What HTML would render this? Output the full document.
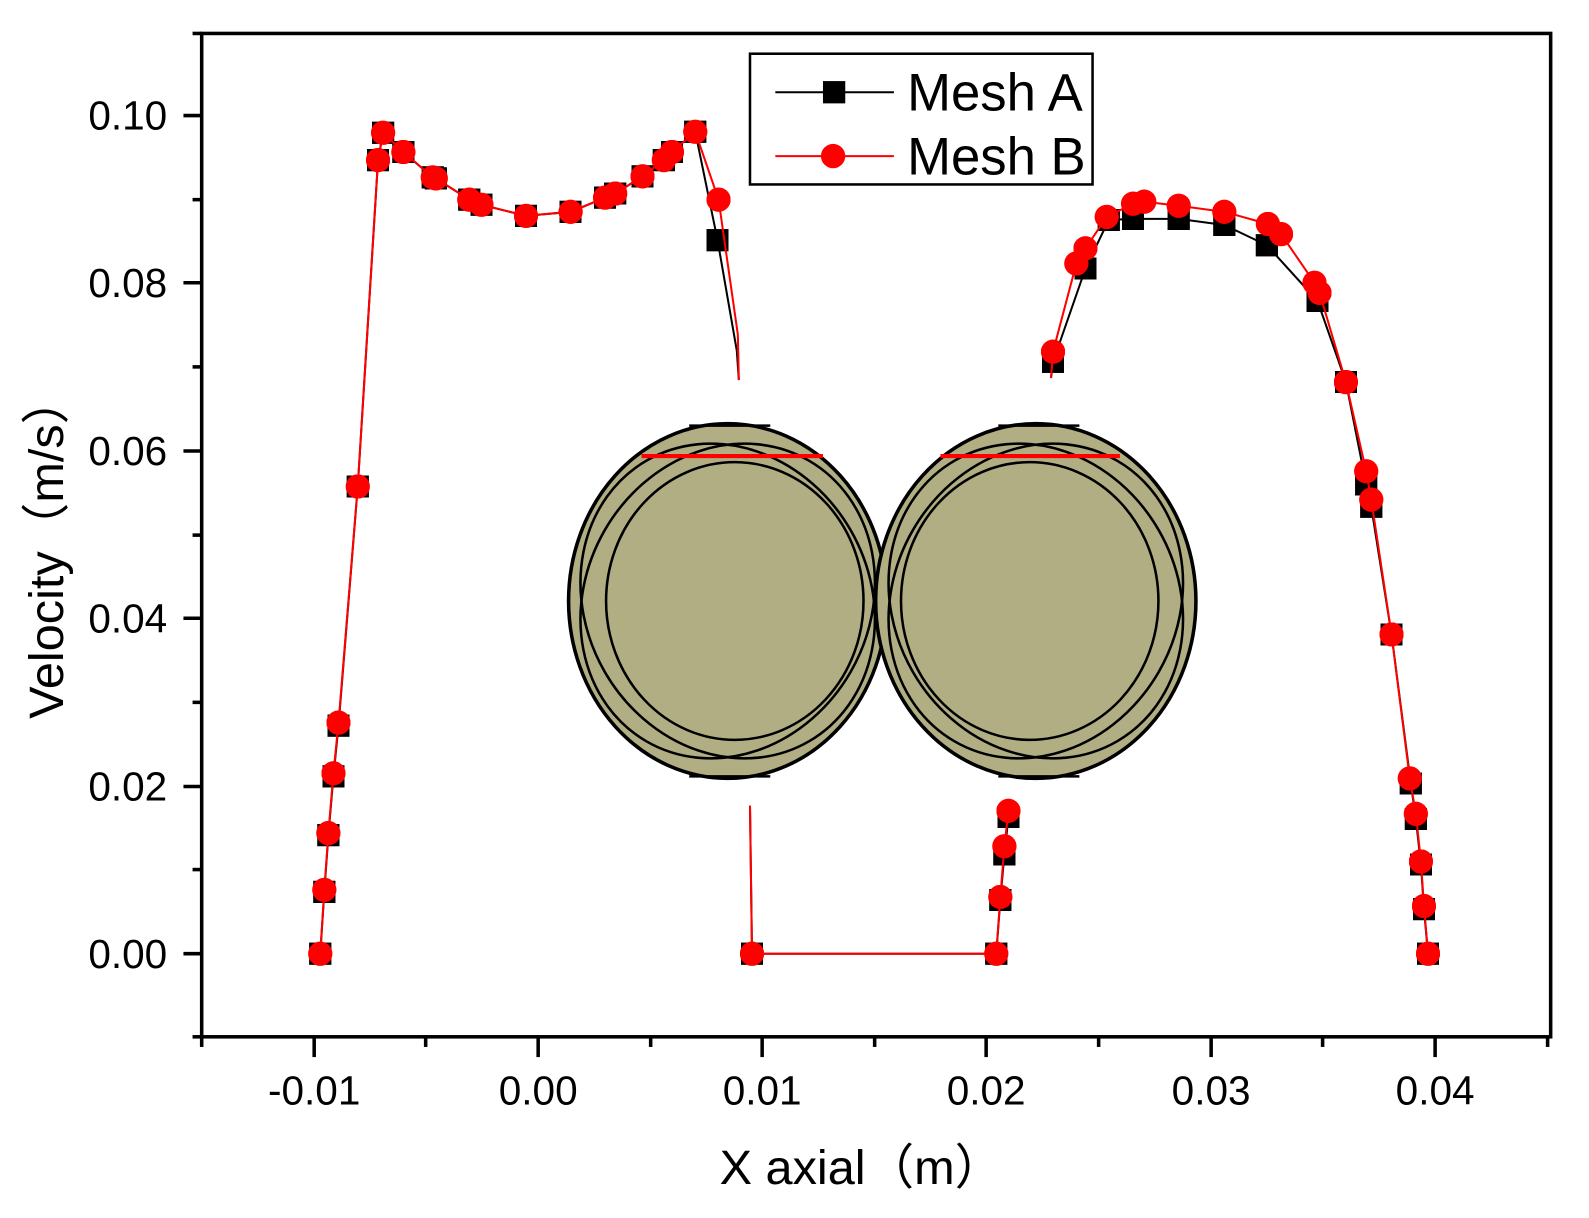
<!DOCTYPE html>
<html><head><style>body{margin:0;background:#fff}svg{display:block}</style></head>
<body>
<svg width="1589" height="1218" xmlns="http://www.w3.org/2000/svg" font-family="Liberation Sans, Arial, sans-serif">
<g transform="scale(1.0135)">
<defs>
<marker id="sq" viewBox="0 0 22 22" refX="11" refY="11" markerWidth="22" markerHeight="22" markerUnits="userSpaceOnUse"><rect width="22" height="22" fill="#000"/></marker>
<marker id="ci" viewBox="0 0 24 24" refX="12" refY="12" markerWidth="24" markerHeight="24" markerUnits="userSpaceOnUse"><circle cx="12" cy="12" r="12" fill="#f00"/></marker>
</defs>
<rect x="199" y="33" width="1331" height="990" fill="none" stroke="#000" stroke-width="3.5"/>
<g stroke="#000" stroke-width="3.5">
<line x1="199" y1="1023" x2="199" y2="1033"/>
<line x1="310" y1="1023" x2="310" y2="1043"/><line x1="420" y1="1023" x2="420" y2="1033"/>
<line x1="531" y1="1023" x2="531" y2="1043"/><line x1="642" y1="1023" x2="642" y2="1033"/>
<line x1="752" y1="1023" x2="752" y2="1043"/><line x1="863" y1="1023" x2="863" y2="1033"/>
<line x1="973" y1="1023" x2="973" y2="1043"/><line x1="1084" y1="1023" x2="1084" y2="1033"/>
<line x1="1195" y1="1023" x2="1195" y2="1043"/><line x1="1305" y1="1023" x2="1305" y2="1033"/>
<line x1="1416" y1="1023" x2="1416" y2="1043"/><line x1="1527" y1="1023" x2="1527" y2="1033"/>
<line x1="181" y1="941" x2="199" y2="941"/><line x1="190" y1="858" x2="199" y2="858"/>
<line x1="181" y1="776" x2="199" y2="776"/><line x1="190" y1="693" x2="199" y2="693"/>
<line x1="181" y1="610" x2="199" y2="610"/><line x1="190" y1="528" x2="199" y2="528"/>
<line x1="181" y1="445" x2="199" y2="445"/><line x1="190" y1="362" x2="199" y2="362"/>
<line x1="181" y1="279" x2="199" y2="279"/><line x1="190" y1="197" x2="199" y2="197"/>
<line x1="181" y1="114" x2="199" y2="114"/><line x1="190" y1="1023" x2="199" y2="1023"/><line x1="190" y1="33" x2="199" y2="33"/>
</g>
<g font-size="40" text-anchor="middle">
<text x="310" y="1090">-0.01</text><text x="531" y="1090">0.00</text><text x="752" y="1090">0.01</text>
<text x="973" y="1090">0.02</text><text x="1195" y="1090">0.03</text><text x="1416" y="1090">0.04</text>
</g>
<g font-size="40" text-anchor="end">
<text x="165" y="955">0.00</text><text x="165" y="790">0.02</text><text x="165" y="624">0.04</text>
<text x="165" y="459">0.06</text><text x="165" y="293">0.08</text><text x="165" y="128">0.10</text>
</g>
<text x="850" y="1168" font-size="48" text-anchor="middle" font-family="Liberation Sans, 'Noto Sans CJK SC', sans-serif">X axial（m）</text>
<text transform="translate(62,540) rotate(-90)" font-size="48" text-anchor="middle" font-family="Liberation Sans, 'Noto Sans CJK SC', sans-serif">Velocity（m/s）</text>

<g fill="none" stroke="#000" stroke-width="2">
<polyline marker-start="url(#sq)" marker-mid="url(#sq)" points="316,941 320,880 324,824 329,766 334,716 353,480 373,158 378,131 398,150 427,175 430,176 463,197 475,202 519,213 563,209 597,195 607,191 634,174 655,158 663,150 686,130 708,237 727,346"/>
<line x1="727" y1="346" x2="729" y2="375"/>
<polyline marker-mid="url(#sq)" marker-end="url(#sq)" points="740,795 742,941 983,941 987,888 991,843 995,806"/>
<line x1="1037" y1="373" x2="1039" y2="357"/>
<polyline marker-start="url(#sq)" marker-mid="url(#sq)" marker-end="url(#sq)" points="1039,357 1071,265 1094,217 1118,216 1163,216 1208,222 1250,242 1300,297 1328,377 1348,478 1353,500 1373,626 1392,773 1397,808 1402,853 1405,897 1409,941"/>
</g>
<g fill="none" stroke="#f00" stroke-width="2">
<polyline marker-start="url(#ci)" marker-mid="url(#ci)" points="316,941 320,878 324,822 329,763 334,713 353,480 373,158 378,131 398,150 427,175 430,176 463,197 475,202 519,213 563,209 597,195 607,191 634,174 655,158 663,150 686,130 709,197 728,330"/>
<line x1="728" y1="330" x2="729" y2="375"/>
<polyline marker-mid="url(#ci)" marker-end="url(#ci)" points="740,795 742,941 983,941 987,885 991,835 995,800"/>
<line x1="1037" y1="373" x2="1039" y2="347"/>
<polyline marker-start="url(#ci)" marker-mid="url(#ci)" marker-end="url(#ci)" points="1039,347 1062,260 1071,245 1092,214 1118,201 1129,199 1163,203 1208,209 1251,221 1264,231 1297,279 1302,289 1328,377 1348,465 1353,493 1373,626 1391,768 1397,803 1402,850 1405,894 1409,941"/>
</g>

<g stroke="#000" stroke-width="3.5" fill="#b0ae82">
<ellipse cx="718" cy="593" rx="157" ry="175"/>
<ellipse cx="1022" cy="593" rx="158" ry="175"/>
</g>
<g stroke="#000" stroke-width="2.5" fill="none">
<ellipse cx="725" cy="593" rx="127" ry="137"/>
<ellipse cx="1016" cy="593" rx="127" ry="137"/>
<ellipse cx="718" cy="593" rx="140" ry="160" transform="rotate(30 718 593)"/>
<ellipse cx="718" cy="593" rx="140" ry="160" transform="rotate(-30 718 593)"/>
<ellipse cx="1022" cy="593" rx="140" ry="160" transform="rotate(30 1022 593)"/>
<ellipse cx="1022" cy="593" rx="140" ry="160" transform="rotate(-30 1022 593)"/>
<line x1="680" y1="420" x2="760" y2="420"/><line x1="680" y1="766" x2="760" y2="766"/>
<line x1="985" y1="420" x2="1065" y2="420"/><line x1="985" y1="766" x2="1065" y2="766"/>
</g>
<line x1="633" y1="450" x2="812" y2="450" stroke="#f00" stroke-width="4"/>
<line x1="928" y1="450" x2="1105" y2="450" stroke="#f00" stroke-width="4"/>

<rect x="740" y="53" width="338" height="129" fill="#fff" stroke="#000" stroke-width="2.5"/>
<line x1="765" y1="91" x2="882" y2="91" stroke="#000" stroke-width="2"/>
<rect x="812" y="80" width="22" height="22" fill="#000"/>
<line x1="765" y1="154" x2="882" y2="154" stroke="#f00" stroke-width="2"/>
<circle cx="822" cy="154" r="12" fill="#f00"/>
<text x="895" y="109" font-size="52">Mesh A</text>
<text x="895" y="172" font-size="52">Mesh B</text>
</g>
</svg>
</body></html>
